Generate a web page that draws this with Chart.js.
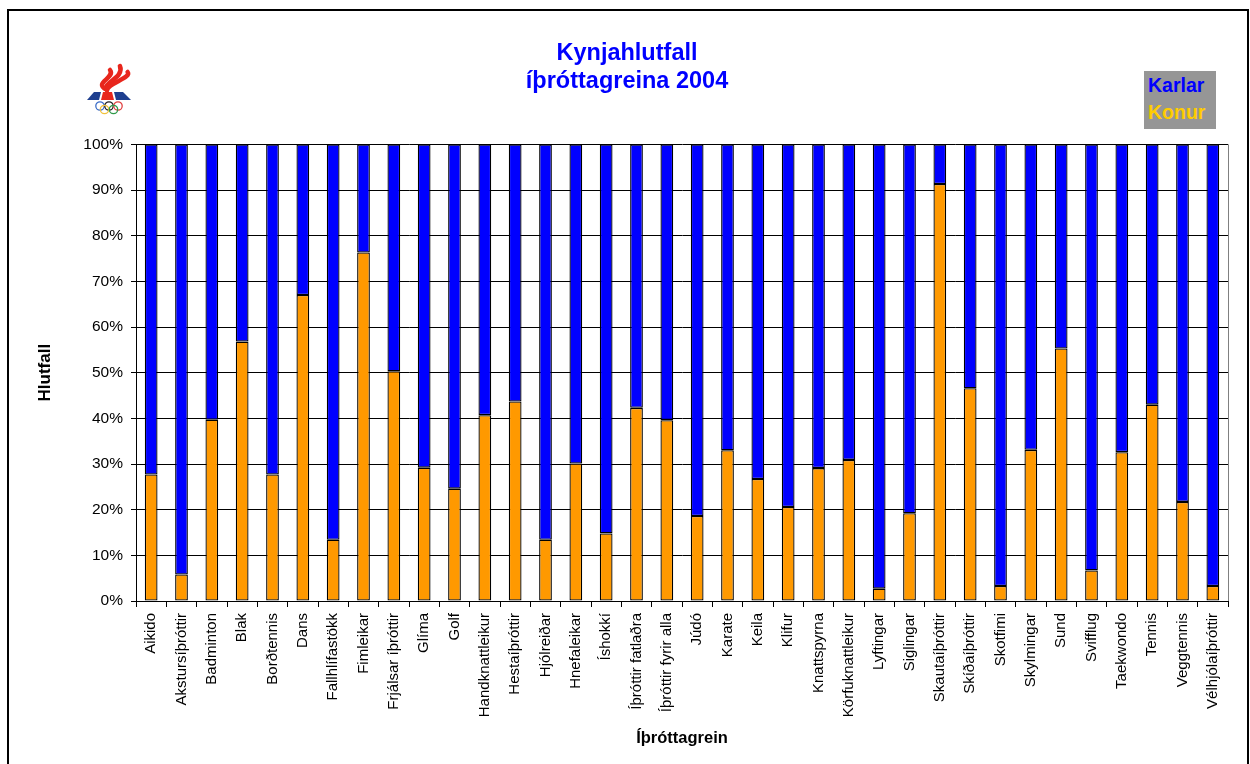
<!DOCTYPE html>
<html>
<head>
<meta charset="utf-8">
<script src="https://cdn.jsdelivr.net/npm/chart.js@4"></script>
<style>
  body { margin: 0; overflow: hidden; background: #fff; }
  #wrap { position: relative; width: 1250px; height: 764px; }
  #frame { position: absolute; left: 7px; top: 9px; width: 1238px; height: 800px; border: 2px solid #000; pointer-events: none; }
  #legendBox { position: absolute; left: 1144px; top: 71px; width: 72px; height: 58px; background: #969696;
    font: bold 19.5px "Liberation Sans", Arial, sans-serif; line-height: 27px; padding-left: 4px; box-sizing: border-box; padding-top: 1px; }
  #legendBox .karlar { color: #0000ff; }
  #legendBox .konur { color: #ffcc00; }
</style>
</head>
<body>
<div id="wrap">
  <canvas id="genderChart" width="1250" height="764"></canvas>
  <div id="frame"></div>
  <div id="legendBox"><div class="karlar">Karlar</div><div class="konur">Konur</div></div>
</div>
<script>
// Kynjahlutfall íþróttagreina 2004

const categories = ['Aikido', 'Akstursíþróttir', 'Badminton', 'Blak', 'Borðtennis', 'Dans', 'Fallhlífastökk',
    'Fimleikar', 'Frjálsar íþróttir', 'Glíma', 'Golf', 'Handknattleikur', 'Hestaíþróttir', 'Hjólreiðar',
    'Hnefaleikar', 'Íshokkí', 'Íþróttir fatlaðra', 'Íþróttir fyrir alla', 'Júdó', 'Karate', 'Keila', 'Klifur',
    'Knattspyrna', 'Körfuknattleikur', 'Lyftingar', 'Siglingar', 'Skautaíþróttir', 'Skíðaíþróttir', 'Skotfimi',
    'Skylmingar', 'Sund', 'Svifflug', 'Taekwondo', 'Tennis', 'Veggtennis', 'Vélhjólaíþróttir'];

const konur = [27.7, 5.8, 39.7, 56.8, 27.7, 67.0, 13.4, 76.3, 50.3, 29.2, 24.6, 40.7, 43.7, 13.4, 30.1, 14.8,
    42.3, 39.6, 18.6, 33.0, 26.7, 20.6, 29.1, 30.9, 2.7, 19.2, 91.3, 46.6, 3.3, 33.1, 55.3, 6.7, 32.6, 43.0, 21.7, 3.3];

const karlar = [72.3, 94.2, 60.3, 43.2, 72.3, 33.0, 86.6, 23.7, 49.7, 70.8, 75.4, 59.3, 56.3, 86.6, 69.9, 85.2,
    57.7, 60.4, 81.4, 67.0, 73.3, 79.4, 70.9, 69.1, 97.3, 80.8, 8.7, 53.4, 96.7, 66.9, 44.7, 93.3, 67.4, 57.0, 78.3, 96.7];

const titleLines = ['Kynjahlutfall', 'íþróttagreina 2004'];
const FONT = '"Liberation Sans", Arial, sans-serif';

// gray border on the right side of the plot area
const plotBorder = {
    id: 'plotBorder',
    beforeDatasetsDraw(chart) {
        const { ctx, chartArea } = chart;
        ctx.save();
        ctx.strokeStyle = '#808080';
        ctx.lineWidth = 1;
        ctx.beginPath();
        ctx.moveTo(Math.round(chartArea.right) + 0.5, chartArea.top);
        ctx.lineTo(Math.round(chartArea.right) + 0.5, chartArea.bottom);
        ctx.stroke();
        ctx.restore();
    }
};

// rough sketch of the ÍSÍ logo top left
const logo = {
    id: 'logo',
    afterDraw(chart) {
        const ctx = chart.ctx;
        ctx.save();
        ctx.translate(86, 63);
        // flames
        ctx.strokeStyle = '#e8261c';
        ctx.lineCap = 'round';
        ctx.lineWidth = 4.5;
        [[0, 4], [9, 0], [16, 6]].forEach(function (o) {
            ctx.beginPath();
            ctx.moveTo(21, 27);
            ctx.bezierCurveTo(6 + o[0], 20, 30 + o[0], 15, 24 + o[0] * 1.1, 3 + o[1]);
            ctx.stroke();
        });
        ctx.fillStyle = '#e8261c';
        // base
        ctx.beginPath();
        ctx.moveTo(17, 29); ctx.lineTo(26, 29); ctx.lineTo(28, 37); ctx.lineTo(15, 37); ctx.closePath();
        ctx.fill();
        ctx.fillStyle = '#1f3f8f';
        ctx.beginPath();
        ctx.moveTo(8, 29); ctx.lineTo(15, 29); ctx.lineTo(13, 37); ctx.lineTo(1, 37); ctx.closePath();
        ctx.fill();
        ctx.beginPath();
        ctx.moveTo(28, 29); ctx.lineTo(37, 29); ctx.lineTo(45, 37); ctx.lineTo(30, 37); ctx.closePath();
        ctx.fill();
        // rings
        ctx.lineWidth = 1.3;
        const rings = [[14, 43, '#3a6cc8'], [23, 43, '#222'], [32, 43, '#e04040'], [18.5, 46.5, '#f2c23c'], [27.5, 46.5, '#2e9a4a']];
        rings.forEach(function (r) {
            ctx.strokeStyle = r[2];
            ctx.beginPath();
            ctx.arc(r[0], r[1], 4.2, 0, Math.PI * 2);
            ctx.stroke();
        });
        ctx.restore();
    }
};

const ctx = document.getElementById('genderChart').getContext('2d');
new Chart(ctx, {
    type: 'bar',
    data: {
        labels: categories,
        datasets: [{
            label: 'Konur',
            data: konur,
            backgroundColor: '#ff9900',
            borderColor: '#000',
            borderWidth: 1.3,
            borderSkipped: false
        }, {
            label: 'Karlar',
            data: karlar,
            backgroundColor: '#0000ff',
            borderColor: '#000',
            borderWidth: 1.3,
            borderSkipped: false
        }]
    },
    options: {
        responsive: false,
        animation: false,
        categoryPercentage: 1,
        barPercentage: 0.42,
        layout: { padding: { top: 10, left: 26, right: 22, bottom: 0 } },
        plugins: {
            legend: { display: false },
            tooltip: { enabled: false },
            title: {
                display: true,
                text: titleLines,
                color: '#0000ff',
                font: { family: FONT, size: 23.5, weight: 'bold', lineHeight: 1.22 },
                padding: { top: 29, bottom: 48 }
            }
        },
        scales: {
            x: {
                stacked: true,
                afterFit: function (scale) { scale.height = 163; },
                grid: { display: true, drawOnChartArea: false, drawTicks: true, tickLength: 6, color: '#000', offset: true },
                border: { display: true, color: '#000' },
                ticks: {
                    autoSkip: false, minRotation: 90, maxRotation: 90, padding: 6,
                    color: '#000', font: { family: FONT, size: 15 }
                },
                title: {
                    display: true, text: 'Íþróttagrein', color: '#000',
                    font: { family: FONT, size: 16.5, weight: 'bold' },
                    padding: { top: 0, bottom: 16 }
                }
            },
            y: {
                stacked: true,
                min: 0,
                max: 100,
                afterFit: function (scale) { scale.width = 110; },
                grid: { color: '#000', tickLength: 5 },
                border: { display: true, color: '#000' },
                ticks: {
                    stepSize: 10, padding: 8, color: '#000',
                    font: { family: FONT, size: 15.5 },
                    callback: function (value) { return value + '%'; }
                },
                title: {
                    display: true, text: 'Hlutfall', color: '#000',
                    font: { family: FONT, size: 17, weight: 'bold' },
                    padding: { top: 9, bottom: 0 }
                }
            }
        }
    },
    plugins: [plotBorder, logo]
});
</script>
</body>
</html>
